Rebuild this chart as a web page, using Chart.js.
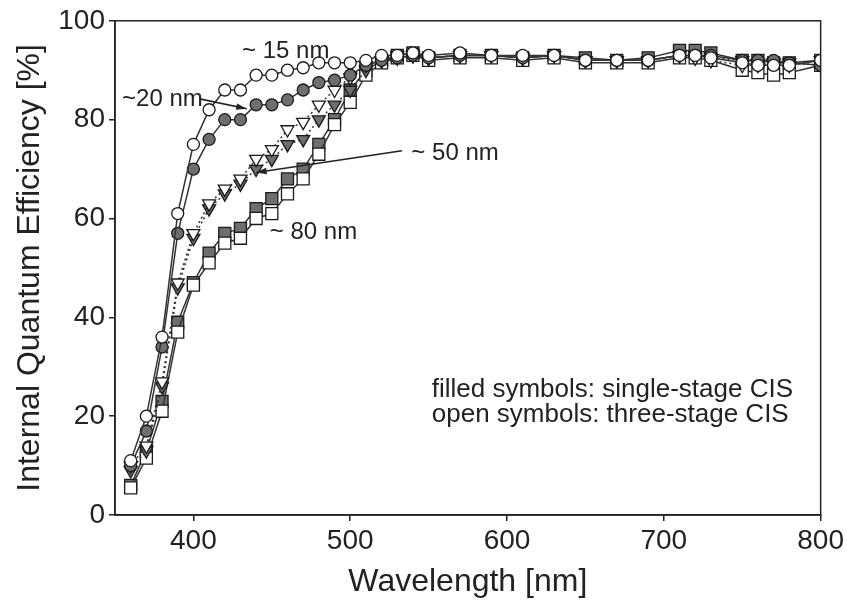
<!DOCTYPE html>
<html>
<head>
<meta charset="utf-8">
<script src="https://cdn.jsdelivr.net/npm/chart.js@4"></script>
<style>
  html, body { margin: 0; padding: 0; background: #fff; }
  #wrap { width: 847px; height: 606px; }
</style>
</head>
<body>
<div id="wrap"><canvas id="iqe"></canvas></div>
<script>
// wavelength grid [nm]
var wavelengths = [360, 370, 380, 390, 400, 410, 420, 430, 440, 450, 460, 470, 480, 490, 500,
    510, 520, 530, 540, 550, 570, 590, 610, 630, 650, 670, 690, 710, 720, 730, 750, 760, 770, 780, 800];

// internal quantum efficiency [%]
var open15 = [11, 20, 36, 61, 75, 82, 86, 86, 89, 89, 90, 90.5, 91.5, 91.5, 91.5,
    92, 93, 93, 93.5, 93, 93.5, 93, 93, 93, 92, 92, 92, 93, 93, 92.5, 91.5, 91, 91, 91, 92];
var filled20 = [10, 17, 34, 57, 70, 76, 80, 80, 83, 83, 84, 86, 87.5, 88, 89,
    91, 92, 92.5, 93, 92.5, 93, 93, 92.5, 93, 92, 92, 92, 93, 93, 93, 92, 92, 92, 91.5, 91];
var open50 = [10, 14, 27, 47, 57, 63, 66, 68, 72, 74, 78, 79.5, 83, 86, 88.5,
    91, 92, 93, 93, 92.5, 93, 93, 92.5, 93, 92, 92, 92, 93, 92.5, 92, 91, 91, 91.5, 91, 92];
var filled50 = [9, 13, 26, 46, 56, 62, 65, 67, 70, 72, 75, 76, 80, 83, 86,
    90, 92, 92.5, 93, 92.5, 93, 93, 92.5, 93, 92, 92, 92, 93, 93, 92.5, 92, 91.5, 91.5, 91.5, 91];
var open80 = [5.5, 11.5, 21, 37, 46.5, 51, 55, 56, 60, 61, 65, 68, 73, 79, 83.5,
    89, 91.5, 92.5, 93, 92, 92.5, 92.5, 92, 92.5, 91.5, 91.5, 91.5, 92.5, 92.5, 92, 90, 89.5, 89, 89.5, 91];
var filled80 = [6, 13, 23, 39, 47, 53, 57, 58, 62, 64, 68, 70, 75, 80, 86,
    90, 92, 93, 93.5, 92.5, 93, 93, 92.5, 93, 92.5, 92, 92.5, 94, 94, 93.5, 92, 92, 91.5, 91.5, 92];

var xTicks = [400, 500, 600, 700, 800];
var yTicks = [0, 20, 40, 60, 80, 100];

// text labels, anchored at their left end / baseline in data coordinates
var notes = [
    { text: '~ 15 nm', x: 431, y: 92.5, size: 24 },
    { text: '~20 nm', x: 354.5, y: 82.8, size: 24 },
    { text: '~ 50 nm', x: 539, y: 71.9, size: 24 },
    { text: '~ 80 nm', x: 448.7, y: 55.8, size: 24 },
    { text: 'filled symbols: single-stage CIS', x: 552, y: 23.8, size: 26 },
    { text: 'open symbols: three-stage CIS', x: 552, y: 18.8, size: 26 }
];
var arrows = [
    { from: [404, 84.2], to: [434, 82.2] },
    { from: [533, 73.7], to: [440, 69.3] }
];

var FONT = '"Liberation Sans", Arial, sans-serif';
var INK = '#222';

function pts(values) {
    return values.map(function (v, i) { return { x: wavelengths[i], y: v }; });
}

function series(label, values, style, filled, dashed) {
    return {
        label: label,
        data: pts(values),
        showLine: true,
        borderColor: '#333',
        borderWidth: 1.5,
        borderDash: dashed ? [2, 3] : [],
        pointStyle: style,
        pointRadius: style === 'circle' ? 6 : (style === 'rect' ? 8.5 : 7.5),
        pointRotation: style === 'triangle' ? 180 : 0,
        pointBackgroundColor: filled ? '#6e6e6e' : '#fff',
        pointBorderColor: '#1a1a1a',
        pointBorderWidth: 1.3
    };
}

var frameAndNotes = {
    id: 'frameAndNotes',
    afterDatasetsDraw: function (chart) {
        var ctx = chart.ctx, a = chart.chartArea;
        var xs = chart.scales.x, ys = chart.scales.y;
        ctx.save();
        ctx.strokeStyle = INK;
        ctx.lineWidth = 1.5;
        ctx.strokeRect(a.left, a.top, a.right - a.left, a.bottom - a.top);

        ctx.fillStyle = INK;
        ctx.textAlign = 'left';
        ctx.textBaseline = 'alphabetic';
        notes.forEach(function (n) {
            ctx.font = n.size + 'px ' + FONT;
            ctx.fillText(n.text, xs.getPixelForValue(n.x), ys.getPixelForValue(n.y));
        });

        ctx.lineWidth = 1.6;
        arrows.forEach(function (ar) {
            var x0 = xs.getPixelForValue(ar.from[0]), y0 = ys.getPixelForValue(ar.from[1]);
            var x1 = xs.getPixelForValue(ar.to[0]), y1 = ys.getPixelForValue(ar.to[1]);
            var ang = Math.atan2(y1 - y0, x1 - x0);
            ctx.beginPath();
            ctx.moveTo(x0, y0);
            ctx.lineTo(x1, y1);
            ctx.stroke();
            ctx.beginPath();
            ctx.moveTo(x1, y1);
            ctx.lineTo(x1 - 11 * Math.cos(ang - 0.3), y1 - 11 * Math.sin(ang - 0.3));
            ctx.lineTo(x1 - 11 * Math.cos(ang + 0.3), y1 - 11 * Math.sin(ang + 0.3));
            ctx.closePath();
            ctx.fill();
        });
        ctx.restore();
    }
};

new Chart(document.getElementById('iqe').getContext('2d'), {
    type: 'scatter',
    data: {
        datasets: [
            series('~15 nm three-stage', open15, 'circle', false, false),
            series('~20 nm single-stage', filled20, 'circle', true, false),
            series('~50 nm three-stage', open50, 'triangle', false, true),
            series('~50 nm single-stage', filled50, 'triangle', true, true),
            series('~80 nm three-stage', open80, 'rect', false, false),
            series('~80 nm single-stage', filled80, 'rect', true, false)
        ]
    },
    options: {
        responsive: true,
        maintainAspectRatio: false,
        animation: false,
        layout: { padding: { top: 20, right: 25, left: 0, bottom: 0 } },
        plugins: {
            legend: { display: false },
            tooltip: { enabled: false }
        },
        scales: {
            x: {
                type: 'linear',
                min: 350,
                max: 800,
                afterBuildTicks: function (axis) {
                    axis.ticks = xTicks.map(function (v) { return { value: v }; });
                },
                afterFit: function (axis) { axis.height = 91; },
                grid: { display: true, drawOnChartArea: false, drawTicks: true, tickLength: 6, color: INK, lineWidth: 1.5 },
                border: { display: true, color: INK, width: 1.5 },
                ticks: { color: INK, font: { family: FONT, size: 28 }, padding: 3, maxRotation: 0 },
                title: { display: true, text: 'Wavelength [nm]', color: INK, font: { family: FONT, size: 32 }, padding: { top: 0, bottom: 5 } }
            },
            y: {
                type: 'linear',
                min: 0,
                max: 100,
                afterBuildTicks: function (axis) {
                    axis.ticks = yTicks.map(function (v) { return { value: v }; });
                },
                afterFit: function (axis) { axis.width = 115; },
                grid: { display: true, drawOnChartArea: false, drawTicks: true, tickLength: 6, color: INK, lineWidth: 1.5 },
                border: { display: true, color: INK, width: 1.5 },
                ticks: { color: INK, font: { family: FONT, size: 28 }, padding: 4 },
                title: { display: true, text: 'Internal Quantum Efficiency [%]', color: INK, font: { family: FONT, size: 32 }, padding: { top: 11, bottom: 0 } }
            }
        }
    },
    plugins: [frameAndNotes]
});
</script>
</body>
</html>
